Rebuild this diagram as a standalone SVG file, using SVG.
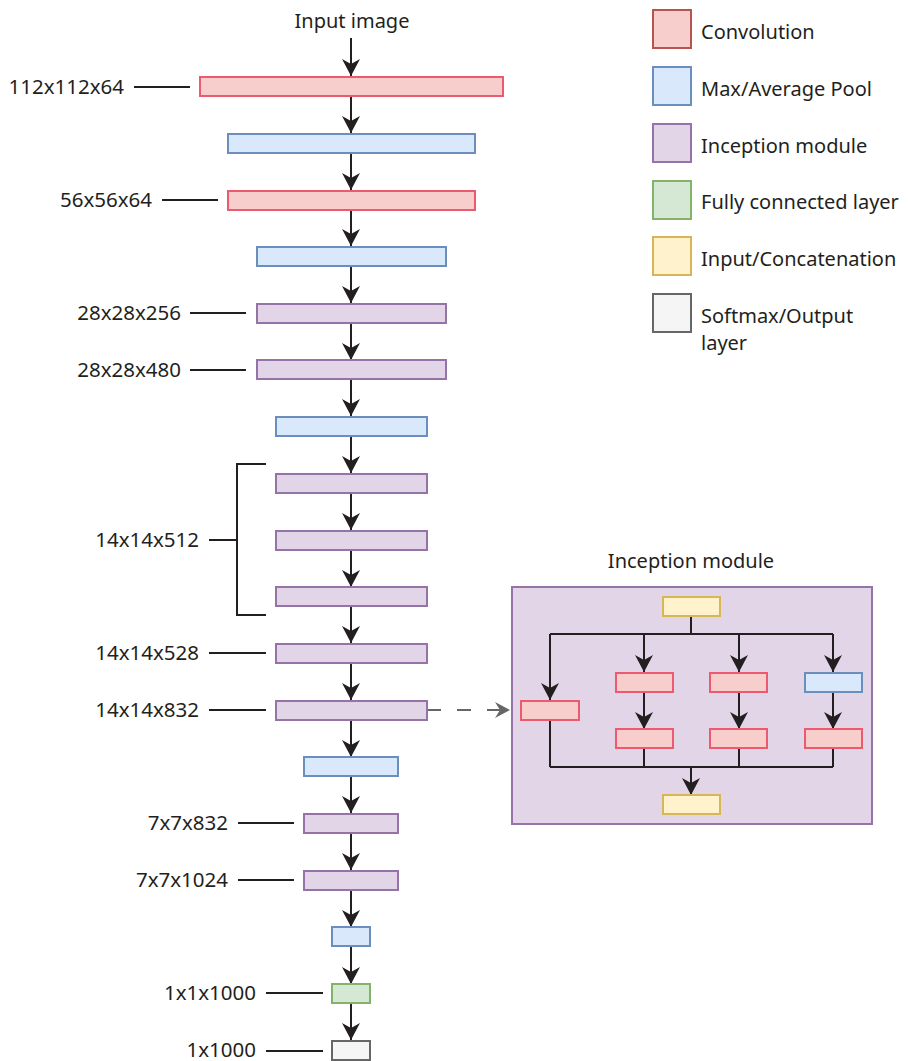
<svg xmlns="http://www.w3.org/2000/svg" width="908" height="1061" viewBox="0 0 908 1061">
  <style>
    text { font-family: "Noto Sans", "Open Sans", "DejaVu Sans", sans-serif; font-size: 20px; fill: #231f20; }
    .lbl { text-anchor: end; font-size: 20.5px; }
    .conv { fill: #f8cecc; stroke: #eb5a6e; stroke-width: 2; }
    .pool { fill: #dae8fc; stroke: #6c8ebf; stroke-width: 2; }
    .incp { fill: #e1d5e7; stroke: #9673a6; stroke-width: 2; }
    .fc { fill: #d5e8d4; stroke: #82b366; stroke-width: 2; }
    .cat { fill: #fff2cc; stroke: #d6b656; stroke-width: 2; }
    .out { fill: #f5f5f5; stroke: #666666; stroke-width: 2; }
    .lconv { fill: #f8cecc; stroke: #b85450; stroke-width: 2; }
    .edge { fill: none; stroke: #231f20; stroke-width: 2; }
    .arr { fill: none; stroke: #231f20; stroke-width: 2; marker-end: url(#ah); }
    .tick { fill: none; stroke: #231f20; stroke-width: 2; }
  </style>
  <defs>
    <marker id="ah" markerUnits="userSpaceOnUse" markerWidth="22" markerHeight="22" viewBox="-20 -11 22 22" refX="0" refY="0" orient="auto" overflow="visible">
      <path d="M0,0 L-17,-9 L-12,0 L-17,9 Z" fill="#231f20"/>
    </marker>
    <marker id="ahg" markerUnits="userSpaceOnUse" markerWidth="22" markerHeight="22" viewBox="-20 -11 22 22" refX="0" refY="0" orient="auto" overflow="visible">
      <path d="M0,0 L-15,-8 L-10,0 L-15,8 Z" fill="#666666"/>
    </marker>
  </defs>

  <!-- connectors -->
  <g id="connectors">
    <path class="arr" d="M351,38 V76"/>
    <path class="arr" d="M351,96 V133"/>
    <path class="arr" d="M351,153 V190"/>
    <path class="arr" d="M351,210 V246"/>
    <path class="arr" d="M351,266 V303"/>
    <path class="arr" d="M351,323 V360"/>
    <path class="arr" d="M351,379 V416"/>
    <path class="arr" d="M351,436 V473"/>
    <path class="arr" d="M351,493 V530"/>
    <path class="arr" d="M351,550 V587"/>
    <path class="arr" d="M351,606 V643"/>
    <path class="arr" d="M351,663 V700"/>
    <path class="arr" d="M351,720 V757"/>
    <path class="arr" d="M351,776 V813"/>
    <path class="arr" d="M351,833 V870"/>
    <path class="arr" d="M351,890 V927"/>
    <path class="arr" d="M351,946 V984"/>
    <path class="arr" d="M351,1003 V1040"/>
    <!-- link to the inception module detail -->
    <path d="M427,710 H510" fill="none" stroke="#666666" stroke-width="2" stroke-dasharray="14,16" marker-end="url(#ahg)"/>
  </g>

  <!-- size labels and leader lines -->
  <g id="size-labels">
    <text class="lbl" x="124" y="94">112x112x64</text>
    <line class="tick" x1="134" y1="87" x2="190" y2="87"/>
    <text class="lbl" x="152" y="207">56x56x64</text>
    <line class="tick" x1="162" y1="200" x2="218" y2="200"/>
    <text class="lbl" x="181" y="320">28x28x256</text>
    <line class="tick" x1="190" y1="313" x2="246" y2="313"/>
    <text class="lbl" x="181" y="377">28x28x480</text>
    <line class="tick" x1="190" y1="370" x2="246" y2="370"/>
    <text class="lbl" x="199" y="547">14x14x512</text>
    <line class="tick" x1="209" y1="540" x2="237" y2="540"/>
    <path class="tick" d="M266,464 H237 V615 H266"/>
    <text class="lbl" x="199" y="660">14x14x528</text>
    <line class="tick" x1="209" y1="653" x2="266" y2="653"/>
    <text class="lbl" x="199" y="717">14x14x832</text>
    <line class="tick" x1="209" y1="710" x2="266" y2="710"/>
    <text class="lbl" x="228" y="830">7x7x832</text>
    <line class="tick" x1="238" y1="823" x2="294" y2="823"/>
    <text class="lbl" x="228" y="887">7x7x1024</text>
    <line class="tick" x1="238" y1="880" x2="294" y2="880"/>
    <text class="lbl" x="256" y="1000">1x1x1000</text>
    <line class="tick" x1="266" y1="993" x2="323" y2="993"/>
    <text class="lbl" x="256" y="1057">1x1000</text>
    <line class="tick" x1="266" y1="1051" x2="323" y2="1051"/>
  </g>

  <!-- main network -->
  <g id="input-label"><text x="352" y="28" text-anchor="middle">Input image</text></g>
  <g id="conv1"><rect class="conv" x="200" y="77" width="303" height="19"/></g>
  <g id="pool1"><rect class="pool" x="228" y="134" width="247" height="19"/></g>
  <g id="conv2"><rect class="conv" x="228" y="191" width="247" height="19"/></g>
  <g id="pool2"><rect class="pool" x="257" y="247" width="189" height="19"/></g>
  <g id="inc3a"><rect class="incp" x="257" y="304" width="189" height="19"/></g>
  <g id="inc3b"><rect class="incp" x="257" y="360" width="189" height="19"/></g>
  <g id="pool3"><rect class="pool" x="276" y="417" width="151" height="19"/></g>
  <g id="inc4a"><rect class="incp" x="276" y="474" width="151" height="19"/></g>
  <g id="inc4b"><rect class="incp" x="276" y="531" width="151" height="19"/></g>
  <g id="inc4c"><rect class="incp" x="276" y="587" width="151" height="19"/></g>
  <g id="inc4d"><rect class="incp" x="276" y="644" width="151" height="19"/></g>
  <g id="inc4e"><rect class="incp" x="276" y="701" width="151" height="19"/></g>
  <g id="pool4"><rect class="pool" x="304" y="757" width="94" height="19"/></g>
  <g id="inc5a"><rect class="incp" x="304" y="814" width="94" height="19"/></g>
  <g id="inc5b"><rect class="incp" x="304" y="871" width="94" height="19"/></g>
  <g id="pool5"><rect class="pool" x="332" y="927" width="38" height="19"/></g>
  <g id="fc"><rect class="fc" x="332" y="984" width="38" height="19"/></g>
  <g id="softmax"><rect class="out" x="332" y="1041" width="38" height="19"/></g>

  <!-- inception module detail -->
  <g id="inception-detail">
    <text x="691" y="568" text-anchor="middle">Inception module</text>
    <rect class="incp" x="512" y="587" width="360" height="237"/>
    <g id="incd-edges">
      <path class="edge" d="M691,616 V634 M550,634 H833"/>
      <path class="arr" d="M550,634 V700"/>
      <path class="arr" d="M644,634 V672"/>
      <path class="arr" d="M739,634 V672"/>
      <path class="arr" d="M833,634 V672"/>
      <path class="arr" d="M644,692 V729"/>
      <path class="arr" d="M739,692 V729"/>
      <path class="arr" d="M833,692 V729"/>
      <path class="edge" d="M550,720 V767 M644,748 V767 M739,748 V767 M833,748 V767 M550,767 H833"/>
      <path class="arr" d="M691,767 V795"/>
    </g>
    <g id="incd-input"><rect class="cat" x="663" y="597" width="57" height="19"/></g>
    <g id="incd-conv1x1"><rect class="conv" x="521" y="701" width="58" height="19"/></g>
    <g id="incd-reduce3"><rect class="conv" x="616" y="673" width="57" height="19"/></g>
    <g id="incd-conv3"><rect class="conv" x="616" y="729" width="57" height="19"/></g>
    <g id="incd-reduce5"><rect class="conv" x="710" y="673" width="57" height="19"/></g>
    <g id="incd-conv5"><rect class="conv" x="710" y="729" width="57" height="19"/></g>
    <g id="incd-pool"><rect class="pool" x="805" y="673" width="57" height="19"/></g>
    <g id="incd-proj"><rect class="conv" x="805" y="729" width="57" height="19"/></g>
    <g id="incd-concat"><rect class="cat" x="663" y="795" width="57" height="19"/></g>
  </g>

  <!-- legend -->
  <g id="legend">
    <g id="legend-conv"><rect class="lconv" x="653" y="10" width="38" height="38"/><text x="701" y="39">Convolution</text></g>
    <g id="legend-pool"><rect class="pool" x="653" y="67" width="38" height="38"/><text x="701" y="96">Max/Average Pool</text></g>
    <g id="legend-incp"><rect class="incp" x="653" y="124" width="38" height="38"/><text x="701" y="153">Inception module</text></g>
    <g id="legend-fc"><rect class="fc" x="653" y="181" width="38" height="38"/><text x="701" y="209">Fully connected layer</text></g>
    <g id="legend-cat"><rect class="cat" x="653" y="237" width="38" height="38"/><text x="701" y="266">Input/Concatenation</text></g>
    <g id="legend-out"><rect class="out" x="653" y="294" width="38" height="38"/><text x="701" y="323">Softmax/Output</text><text x="701" y="350">layer</text></g>
  </g>
</svg>
